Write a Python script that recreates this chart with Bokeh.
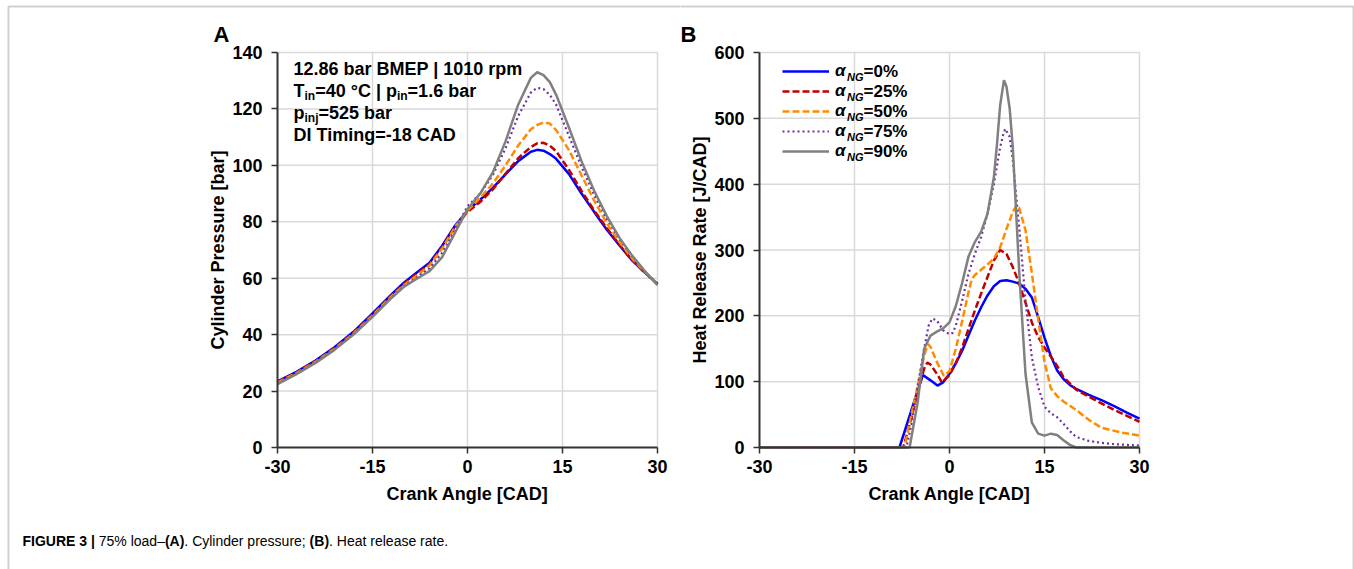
from bokeh.plotting import figure
from bokeh.layouts import row
from bokeh.models import FixedTicker, Label, Legend, LegendItem, BoxAnnotation, Range1d
from bokeh.embed import file_html
from bokeh.resources import INLINE

FONT = "Liberation Sans"

# ---------------- data ----------------
CAD_TICKS = [-30, -15, 0, 15, 30]
P_TICKS = [0, 20, 40, 60, 80, 100, 120, 140]
HRR_TICKS = [0, 100, 200, 300, 400, 500, 600]

# Panel A: cylinder pressure [bar]
CAD_A = [-30, -27, -24, -21, -18, -15, -12, -10, -8, -6, -4, -2, 0, 2, 4, 6, 8, 10, 11, 12, 13, 14, 16, 18, 20, 22, 24, 26, 28, 30]
P_0 = [23.4, 26.8, 30.8, 35.5, 41.0, 47.5, 54.3, 58.5, 62.0, 65.5, 71.5, 78.5, 84.0, 87.8, 92.0, 96.8, 101.5, 104.8, 105.5, 105.2, 104.0, 102.3, 97.0, 90.0, 83.5, 77.2, 71.6, 66.3, 62.0, 58.0]
P_25 = [23.2, 26.6, 30.6, 35.2, 40.7, 47.1, 53.9, 58.0, 61.5, 65.0, 71.0, 78.0, 83.5, 87.0, 91.5, 97.0, 102.5, 106.5, 107.8, 108.0, 107.0, 105.0, 98.5, 91.0, 84.0, 77.8, 71.8, 66.4, 62.0, 58.0]
P_50 = [23.0, 26.4, 30.4, 35.0, 40.4, 46.8, 53.6, 57.6, 61.0, 64.5, 70.5, 78.0, 84.0, 88.5, 93.5, 100.0, 107.0, 112.8, 114.3, 115.2, 114.8, 112.5, 105.5, 96.5, 87.5, 79.5, 72.8, 67.0, 62.2, 58.0]
P_75 = [22.7, 26.2, 30.2, 34.8, 40.2, 46.5, 53.2, 57.2, 60.3, 63.5, 69.0, 77.0, 85.5, 90.0, 96.5, 106.0, 117.5, 125.8, 127.5, 127.0, 125.0, 121.5, 110.5, 99.5, 89.5, 81.0, 74.0, 67.8, 62.4, 57.8]
P_90 = [22.5, 26.0, 30.0, 34.6, 40.0, 46.3, 53.0, 57.0, 59.8, 62.5, 67.5, 76.0, 84.5, 90.0, 97.5, 108.5, 121.5, 131.0, 133.0, 132.0, 129.5, 125.0, 113.5, 101.5, 91.0, 82.0, 74.3, 68.0, 62.5, 57.5]

# Panel B: heat release rate [J/CAD]
CAD_B0 = [-30, -7.9, -6, -5, -4.2, -3, -1.9, -1, 0, 1, 2, 3, 4, 5, 6, 7, 8, 9, 10, 11, 12, 13, 14, 15, 16, 17, 18, 19, 20, 22, 24, 26, 28, 30]
HRR_0 = [0, 0, 57, 87, 110, 102, 94, 99, 112, 128, 147, 170, 193, 213, 231, 245, 253, 254, 252, 249, 241, 228, 198, 167, 139, 117, 104, 95, 89, 80, 72, 63, 53, 44]
CAD_B25 = [-30, -7.3, -6, -5, -4, -3.5, -3, -2, -1.2, 0, 1, 2, 3, 4, 5, 6, 7, 8, 9, 10, 11, 12, 13, 14, 15, 16, 17, 18, 20, 22, 24, 26, 28, 30]
HRR_25 = [0, 0, 45, 85, 120, 129, 126, 112, 99, 110, 128, 152, 180, 208, 234, 259, 284, 300, 294, 274, 249, 220, 190, 168, 152, 138, 124, 107, 88, 77, 67, 57, 48, 39]
CAD_B50 = [-30, -7.1, -6, -5, -4, -3.4, -3, -2, -0.9, 0, 1, 2, 3, 3.5, 4, 5, 6, 7, 8, 9, 10, 10.6, 11, 12, 13, 14, 15, 16, 17, 18, 20, 22, 24, 27, 30]
HRR_50 = [0, 0, 50, 95, 140, 157, 153, 130, 109, 116, 150, 192, 236, 255, 262, 270, 278, 287, 304, 332, 358, 368, 364, 330, 265, 195, 130, 90, 78, 70, 57, 42, 30, 23, 18]
CAD_B75 = [-30, -6.8, -6, -5, -4, -3.3, -2.7, -2, -1, 0, 0.5, 1, 2, 3, 4, 5, 6, 7, 8, 8.5, 8.8, 9.5, 10, 11, 12, 13, 14, 15, 16, 17, 18, 19, 20, 22, 24, 26, 28, 30]
HRR_75 = [0, 0, 35, 95, 150, 185, 196, 193, 178, 172, 174, 185, 223, 264, 294, 320, 355, 400, 456, 476, 484, 472, 436, 335, 223, 137, 92, 62, 52, 46, 36, 25, 16, 10, 7, 5, 4, 3]
CAD_B90 = [-30, -6.3, -5, -4, -3, -2, -1, 0, 1, 2, 3, 4, 5, 6, 7, 7.5, 8, 8.6, 9, 9.5, 10, 11, 12, 13, 14, 15, 16, 17, 18, 19, 20, 30]
HRR_90 = [0, 0, 70, 150, 170, 176, 181, 190, 215, 250, 290, 312, 328, 355, 410, 461, 520, 558, 548, 515, 455, 268, 112, 38, 21, 18, 21, 19, 11, 4, 0, 0]

SERIES_NAMES = ["0%", "25%", "50%", "75%", "90%"]
COLORS = ["#0000ff", "#c00000", "#ff8c00", "#7030a0", "#808080"]
DASHES = ["solid", "7 3", "7 3", "2 3", "solid"]
WIDTHS = [2.5, 2.5, 2.5, 2.2, 2.5]

# ---------------- layout constants (page pixels) ----------------
H = 569
W_A, W_B = 680, 674
B_OFF = 680            # page x where figure B starts
FR_TOP, FR_BOT = 52, 447
FR_W = 380
A_LEFT = 277           # page x of panel A x=-30
B_LEFT = 759           # page x of panel B x=-30

REG = {' ': 278, '%': 889, '(': 333, ')': 333, '.': 278, ';': 278, '=': 584, '|': 260, '–': 556, '-': 333, '°': 400,
       'A': 667, 'B': 667, 'C': 722, 'D': 722, 'E': 667, 'F': 611, 'G': 778, 'H': 722, 'I': 278, 'M': 833, 'N': 722,
       'P': 667, 'R': 722, 'T': 611, 'U': 722, 'a': 556, 'b': 556, 'c': 500, 'd': 556, 'e': 556, 'g': 556, 'h': 556,
       'i': 222, 'j': 222, 'l': 222, 'm': 833, 'n': 556, 'o': 556, 'p': 556, 'r': 333, 's': 500, 't': 278, 'u': 556, 'y': 500}
BOLD = {' ': 278, '%': 889, '(': 333, ')': 333, '.': 278, ';': 333, '=': 584, '|': 280, '–': 556, '-': 333, '°': 400,
        'A': 722, 'B': 722, 'C': 722, 'D': 722, 'E': 667, 'F': 611, 'G': 778, 'H': 722, 'I': 278, 'M': 833, 'N': 722,
        'P': 667, 'R': 722, 'T': 611, 'U': 722, 'a': 556, 'b': 611, 'c': 556, 'd': 611, 'e': 556, 'g': 611, 'h': 611,
        'i': 278, 'j': 278, 'l': 278, 'm': 889, 'n': 611, 'o': 611, 'p': 611, 'r': 389, 's': 556, 't': 333, 'u': 611,
        'y': 556, 'α': 600}


def tw(s, size, bold):
    t = BOLD if bold else REG
    return sum(t.get(c, 556) for c in s) * size / 1000.0


def fx(px, left):
    """page px -> data x for a panel whose x=-30 sits at page px `left`"""
    return -30 + (px - left) * 60.0 / FR_W


def fy(py, ymax):
    return (FR_BOT - py) * ymax / (FR_BOT - FR_TOP)


def make_fig(width, canvas_off, left, ymax, yticks, ylabel):
    # the plotting frame covers the whole canvas; axes are pinned at fixed locations
    xr = Range1d(fx(canvas_off, left), fx(canvas_off + width, left))
    yr = Range1d(fy(H, ymax), fy(0, ymax))
    p = figure(width=width, height=H, output_backend="svg", toolbar_location=None,
               x_range=xr, y_range=yr, min_border=0)
    p.outline_line_color = None
    p.background_fill_color = "white"
    p.border_fill_color = "white"
    p.xgrid.visible = False
    p.ygrid.visible = False
    # grid lines at the tick values, limited to the data box
    gx = [t for t in CAD_TICKS if t != CAD_TICKS[0]]
    p.segment(x0=gx, y0=[yticks[0]] * len(gx), x1=gx, y1=[yticks[-1]] * len(gx),
              line_color="#d9d9d9", line_width=1.5, level="underlay")
    gy = [t for t in yticks if t != yticks[0]]
    p.segment(x0=[CAD_TICKS[0]] * len(gy), y0=gy, x1=[CAD_TICKS[-1]] * len(gy), y1=gy,
              line_color="#d9d9d9", line_width=1.5, level="underlay")
    for ax in (p.xaxis[0], p.yaxis[0]):
        ax.axis_line_color = "#333333"
        ax.axis_line_width = 2
        ax.major_tick_line_color = "#333333"
        ax.major_tick_line_width = 1.5
        ax.major_tick_out = 6
        ax.major_tick_in = 0
        ax.minor_tick_line_color = None
        ax.major_label_text_font = FONT
        ax.major_label_text_font_size = "18px"
        ax.major_label_text_font_style = "bold"
        ax.major_label_text_color = "#000000"
        ax.axis_label_text_font = FONT
        ax.axis_label_text_font_size = "18px"
        ax.axis_label_text_font_style = "bold"
        ax.axis_label_text_color = "#000000"
    xa, ya = p.xaxis[0], p.yaxis[0]
    xa.ticker = FixedTicker(ticks=CAD_TICKS)
    xa.major_label_overrides = {t: str(t) for t in CAD_TICKS}
    xa.fixed_location = yticks[0]
    xa.bounds = (CAD_TICKS[0], CAD_TICKS[-1])
    xa.major_label_standoff = 6
    xa.axis_label_standoff = 8
    xa.axis_label = "Crank Angle [CAD]"
    ya.ticker = FixedTicker(ticks=yticks)
    ya.fixed_location = CAD_TICKS[0]
    ya.bounds = (yticks[0], yticks[-1])
    ya.major_label_standoff = 9
    ya.axis_label_standoff = 1
    ya.axis_label = ylabel
    return p


def chain(p, x, y, pieces, baseline="alphabetic"):
    off = 0.0
    for txt, size, style, dy in pieces:
        p.add_layout(Label(x=x, y=y, text=txt, x_offset=off, y_offset=dy, text_font=FONT,
                           text_font_size=f"{size}px", text_font_style=style, text_color="#000000",
                           text_baseline=baseline, text_align="left"))
        off += tw(txt, size, "bold" in style)


# ---------------- Panel A ----------------
pA = make_fig(W_A, 0, A_LEFT, 140, P_TICKS, "Cylinder Pressure [bar]")
for ys, c, d, w in zip([P_0, P_25, P_50, P_75, P_90], COLORS, DASHES, WIDTHS):
    pA.line(CAD_A, ys, line_color=c, line_dash=d, line_width=w)

ann_x = fx(293, A_LEFT)
chain(pA, ann_x, fy(68.5, 140), [("12.86 bar BMEP | 1010 rpm", 18, "bold", 0)])
chain(pA, ann_x, fy(90.0, 140), [("T", 18, "bold", 0), ("in", 12, "bold", -5), ("=40 °C | p", 18, "bold", 0),
                                 ("in", 12, "bold", -5), ("=1.6 bar", 18, "bold", 0)])
chain(pA, ann_x, fy(112.0, 140), [("p", 18, "bold", 0), ("inj", 12, "bold", -5), ("=525 bar", 18, "bold", 0)])
chain(pA, ann_x, fy(134.0, 140), [("DI Timing=-18 CAD", 18, "bold", 0)])

pA.add_layout(Label(x=fx(213, A_LEFT), y=fy(34, 140), text="A", text_font=FONT, text_font_size="22px",
                    text_font_style="bold", text_color="#000000", text_baseline="alphabetic"))

chain(pA, fx(22, A_LEFT), fy(540, 140), [("FIGURE 3 | ", 14, "bold", 0), ("75% load–", 14, "normal", 0),
                                         ("(A)", 14, "bold", 0), (". Cylinder pressure; ", 14, "normal", 0),
                                         ("(B)", 14, "bold", 0), (". Heat release rate.", 14, "normal", 0)])

# figure frame (left + top)
pA.add_layout(BoxAnnotation(left=fx(8, A_LEFT), right=fx(720, A_LEFT), top=fy(6, 140), bottom=fy(650, 140),
                            fill_color=None, fill_alpha=0, line_color="#666666", line_width=2))

# ---------------- Panel B ----------------
pB = make_fig(W_B, B_OFF, B_LEFT, 600, HRR_TICKS, "Heat Release Rate [J/CAD]")
rends = []
for xs, ys, c, d, w in zip([CAD_B0, CAD_B25, CAD_B50, CAD_B75, CAD_B90], [HRR_0, HRR_25, HRR_50, HRR_75, HRR_90],
                           COLORS, DASHES, WIDTHS):
    rends.append(pB.line(xs, ys, line_color=c, line_dash=d, line_width=w))

ROW_H = 20
LEG_TOP = FR_TOP + 9          # page y of legend top
LEG_X = 782                   # page x of legend key start
legend = Legend(items=[LegendItem(label="α", renderers=[r]) for r in rends],
                location=(LEG_X - B_OFF, H - LEG_TOP - ROW_H * len(rends)),
                orientation="vertical", padding=0, spacing=0, margin=0,
                glyph_width=47, glyph_height=ROW_H, label_height=ROW_H, label_standoff=6,
                label_text_font=FONT, label_text_font_size="17px", label_text_font_style="bold italic",
                label_text_color="#000000", border_line_color=None, background_fill_alpha=0)
pB.add_layout(legend)

for i, name in enumerate(SERIES_NAMES):
    cy = fy(LEG_TOP + ROW_H / 2 + ROW_H * i, 600)
    pB.add_layout(Label(x=fx(835, B_LEFT), y=cy, text="NG", x_offset=11.5, y_offset=-5, text_font=FONT,
                        text_font_size="11px", text_font_style="bold italic", text_color="#000000",
                        text_baseline="middle"))
    pB.add_layout(Label(x=fx(835, B_LEFT), y=cy, text="=" + name, x_offset=28, y_offset=0, text_font=FONT,
                        text_font_size="17px", text_font_style="bold", text_color="#000000",
                        text_baseline="middle"))

pB.add_layout(Label(x=fx(680, B_LEFT), y=fy(34, 600), text="B", text_font=FONT, text_font_size="22px",
                    text_font_style="bold", text_color="#000000", text_baseline="alphabetic"))

# figure frame (top + right)
pB.add_layout(BoxAnnotation(left=fx(640, B_LEFT), right=fx(1353, B_LEFT), top=fy(6, 600), bottom=fy(650, 600),
                            fill_color=None, fill_alpha=0, line_color="#666666", line_width=2))

layout = row(pA, pB)
open("out.html", "w").write(file_html(layout, INLINE))
